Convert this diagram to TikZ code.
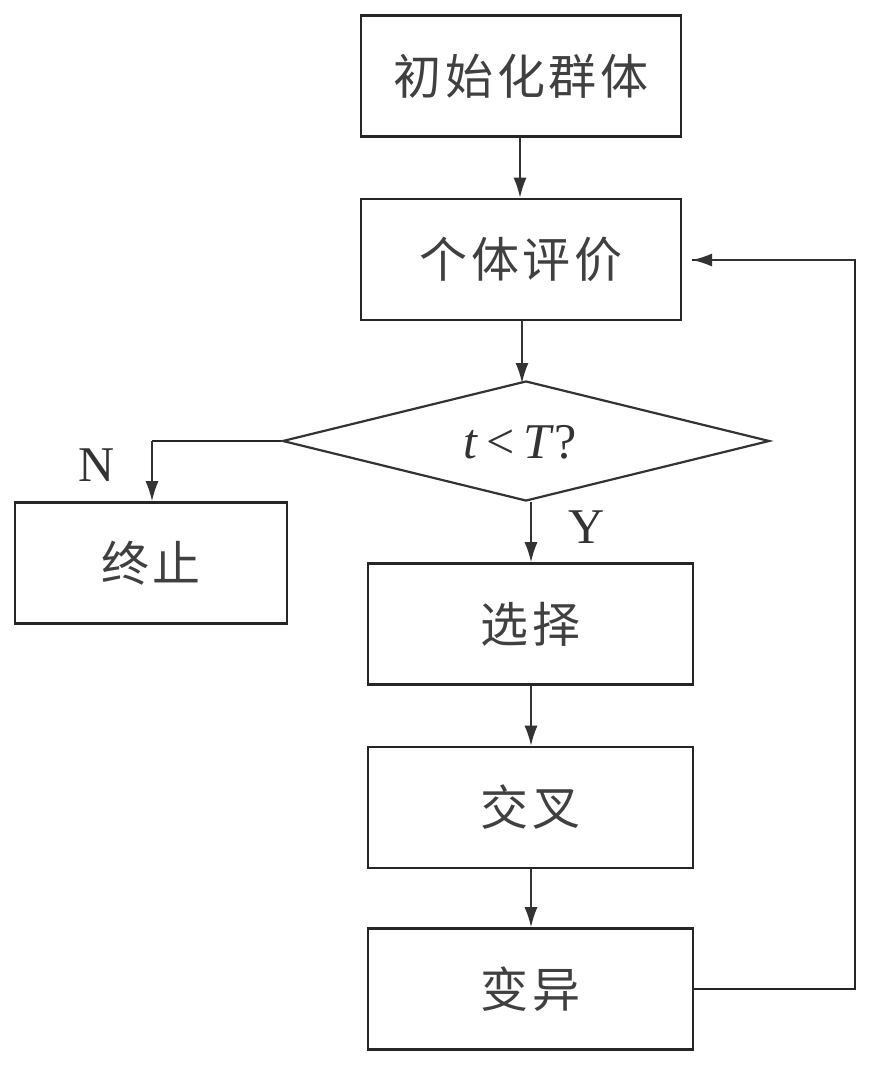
\documentclass[tikz,border=0pt]{standalone}
\usepackage{fontspec}
\setmainfont{Liberation Serif}
\newfontfamily\cjk[LetterSpace=8]{Noto Sans CJK SC}
\usetikzlibrary{shapes.geometric,arrows.meta}
\begin{document}
\begin{tikzpicture}[x=1pt,y=-1pt,
  box/.style={draw=black!85,line width=2.6pt,minimum width=#1,minimum height=121pt,inner sep=0pt,font=\cjk\fontsize{48}{54}\selectfont,text=black!75},
  box/.default=320pt,
  decision/.style={draw=black!80,line width=2.2pt,diamond,minimum width=487pt,minimum height=120pt,inner sep=0pt},
  arr/.style={draw=black!80,line width=1.6pt,-{Latex[length=20pt,width=13pt]}},
  feed/.style={draw=black!85,line width=2.6pt},
  lbl/.style={font=\fontsize{50}{56}\selectfont,text=black!80}]
\useasboundingbox (0,0) rectangle (874,1068);
\node[box] (init) at (521,76) {初始化群体};
\node[box] (eval) at (521,259.5) {个体评价};
\node[decision] (dec) at (526,441) {};
\node[font=\fontsize{50}{56}\selectfont,text=black!80] (cond) at (520,442) {\textit{t}\,<\,\textit{T}?};
\node[box=272pt] (stop) at (151,563) {终止};
\node[box=325pt] (sel) at (530.5,624) {选择};
\node[box=325pt] (cross) at (530.5,807.5) {交叉};
\node[box=325pt] (mut) at (530.5,989) {变异};
\node[lbl] (nl) at (97,465) {N};
\node[lbl] (yl) at (587,527) {Y};
\coordinate (ncorner) at (152,441);
\coordinate (fr1) at (855,989);
\coordinate (fr2) at (855,260);
\coordinate (ftip) at (692,260);
\draw[arr] (init.south -| 520,0) -- (eval.north -| 520,0);
\draw[arr] (eval.south -| 522,0) -- (522,383);
\draw[arr] (dec.south -| 531,0) -- (sel.north -| 531,0);
\draw[arr] (sel.south -| 531,0) -- (cross.north -| 531,0);
\draw[arr] (cross.south -| 531,0) -- (mut.north -| 531,0);
\draw[feed] (dec.west) -- (ncorner);
\draw[arr] (ncorner) -- (stop.north -| ncorner);
\draw[feed] (mut.east) -- (fr1) -- (fr2) -- (ftip);
\draw[arr] (fr2) -- (ftip);
\end{tikzpicture}
\end{document}
